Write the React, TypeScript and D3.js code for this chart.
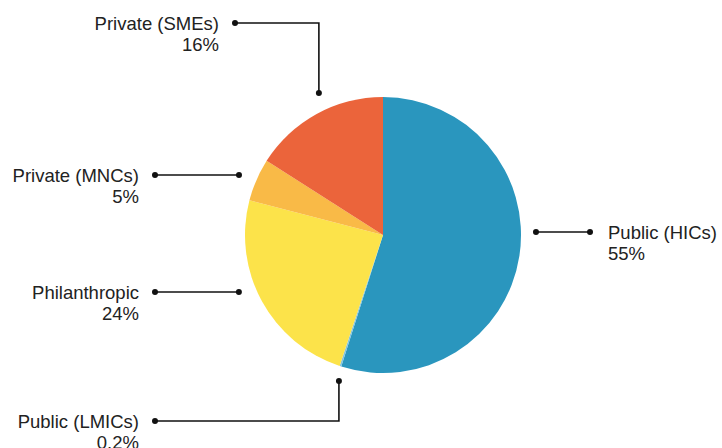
import React from "react";
import * as d3 from "d3";

const categories = ["Public (HICs)", "Public (LMICs)", "Philanthropic", "Private (MNCs)", "Private (SMEs)"];
const values = [55, 0.2, 24, 5, 16];
const percentLabels = ["55%", "0.2%", "24%", "5%", "16%"];
const colors = ["#2A96BE", "#7FC4E2", "#FCE34A", "#F9BA47", "#EB643B"];

// annotation layout: anchor angle (deg, clockwise from top), anchor radius, outer dot
const annot = [
  { angle: 88.9, r: 153, outX: 590, outY: null as number | null, side: "right" },
  { angle: 196.8, r: 152.5, outX: 155, outY: 421, side: "left" },
  { angle: 248.4, r: 155, outX: 155, outY: null, side: "left" },
  { angle: 292.6, r: 156, outX: 155, outY: null, side: "left" },
  { angle: 335.7, r: 155.8, outX: 235, outY: 23, side: "left" },
];

const W = 722;
const H = 448;
const cx = 383;
const cy = 235;
const R = 138;

export default function App() {
  const pie = d3.pie<number>().sort(null).value((d) => d)(values);
  const arc = d3.arc<d3.PieArcDatum<number>>().innerRadius(0).outerRadius(R);
  const fontSize = 18.5;
  return (
    <svg
      width={W}
      height={H}
      style={{ position: "absolute", left: 0, top: 0, background: "#fff" }}
      fontFamily="'Liberation Sans', Arial, sans-serif"
    >
      <g transform={`translate(${cx},${cy})`}>
        {pie.map((p, i) => (
          <path key={i} d={arc(p) || ""} fill={colors[i]} />
        ))}
      </g>
      {annot.map((a, i) => {
        const rad = (a.angle * Math.PI) / 180;
        const ax = cx + a.r * Math.sin(rad);
        const ay = cy - a.r * Math.cos(rad);
        const oy = a.outY === null ? ay : a.outY;
        const ox = a.outX;
        const pts: [number, number][] =
          a.outY === null ? [[ax, ay], [ox, oy]] : [[ax, ay], [ax, oy], [ox, oy]];
        const line = d3.line()(pts) || "";
        const isLeft = a.side === "left";
        const tx = isLeft ? ox - 16 : ox + 18;
        return (
          <g key={i}>
            <path d={line} fill="none" stroke="#111" strokeWidth={1.6} />
            <circle cx={ax} cy={ay} r={3} fill="#111" />
            <circle cx={ox} cy={oy} r={3} fill="#111" />
            <text
              x={tx}
              y={oy + 6.5}
              fontSize={fontSize}
              fill="#222"
              textAnchor={isLeft ? "end" : "start"}
            >
              <tspan x={tx}>{categories[i]}</tspan>
              <tspan x={tx} dy={21}>{percentLabels[i]}</tspan>
            </text>
          </g>
        );
      })}
    </svg>
  );
}
